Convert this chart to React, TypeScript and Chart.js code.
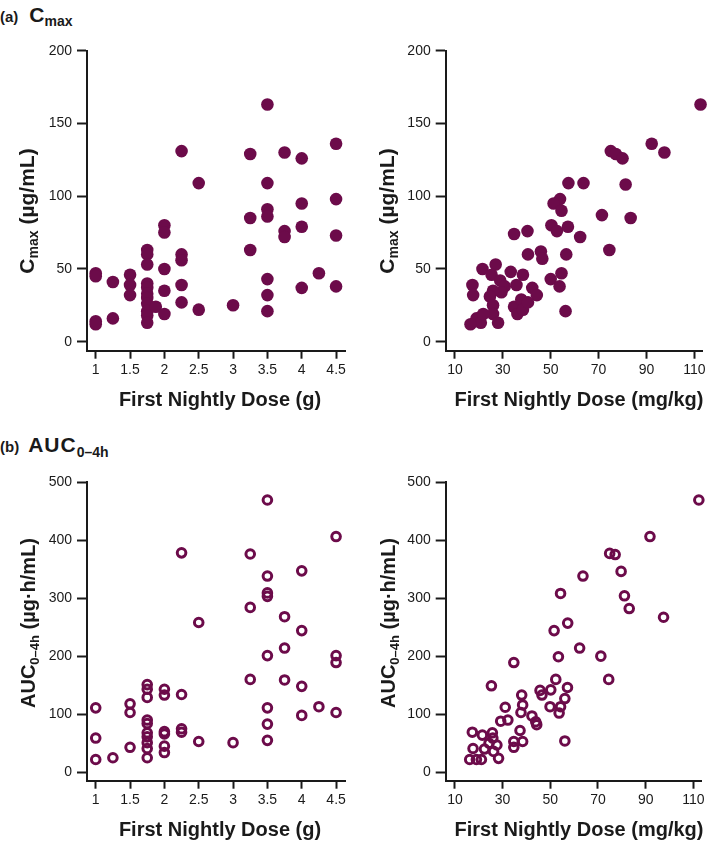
import React, { useEffect, useRef } from 'react';
import { Chart, registerables } from 'chart.js';

Chart.register(...registerables);

const COLOR = '#6C0B4A';
const AXIS_COLOR = '#1a1a1a';
const FONT = "'Liberation Sans', Arial, Helvetica, sans-serif";

// ---------- Tick labels ----------
const doseGTicks = [1, 1.5, 2, 2.5, 3, 3.5, 4, 4.5];
const doseMgKgTicks = [10, 30, 50, 70, 90, 110];
const cmaxTicks = [0, 50, 100, 150, 200];
const aucTicks = [0, 100, 200, 300, 400, 500];

// ---------- (a) Cmax vs dose (g) ----------
const cmaxDoseG = [
  1, 1, 1, 1, 1.25, 1.25, 1.5, 1.5, 1.5,
  1.75, 1.75, 1.75, 1.75, 1.75, 1.75, 1.75, 1.75, 1.75, 1.75, 1.75, 1.875,
  2, 2, 2, 2, 2, 2.25, 2.25, 2.25, 2.25, 2.25, 2.5, 2.5, 3,
  3.25, 3.25, 3.25, 3.5, 3.5, 3.5, 3.5, 3.5, 3.5, 3.5,
  3.75, 3.75, 3.75, 4, 4, 4, 4, 4.25, 4.5, 4.5, 4.5, 4.5,
];
const cmaxValuesG = [
  47, 45, 14, 12, 41, 16, 46, 39, 32,
  63, 60, 53, 40, 37, 33, 30, 26, 21, 18, 13, 24,
  80, 75, 50, 35, 19, 131, 60, 56, 39, 27, 109, 22, 25,
  129, 85, 63, 163, 109, 91, 86, 43, 32, 21,
  130, 76, 72, 126, 95, 79, 37, 47, 136, 98, 73, 38,
];

// ---------- (a) Cmax vs dose (mg/kg) ----------
const cmaxDoseMgKg = [
  112.6, 92.2, 97.5, 75.1, 77.2, 80.0, 81.3, 83.4, 71.4, 74.5,
  57.4, 63.7, 53.9, 51.2, 54.5, 50.3, 52.6, 57.2, 62.3, 56.5,
  45.9, 46.5, 40.5, 40.3, 34.7, 50.0, 54.5, 53.7, 56.2, 42.3,
  44.2, 38.4, 33.3, 35.7, 34.7, 36.1, 37.7, 38.4, 40.5, 27.0,
  21.5, 25.3, 28.9, 30.8, 29.4, 25.9, 24.6, 25.9, 25.9, 17.3,
  17.6, 19.0, 20.8, 21.8, 16.5, 28.0,
];
const cmaxValuesMgKg = [
  163, 136, 130, 131, 129, 126, 108, 85, 87, 63,
  109, 109, 98, 95, 90, 80, 76, 79, 72, 60,
  62, 57, 60, 76, 74, 43, 47, 38, 21, 37,
  32, 46, 48, 39, 24, 19, 29, 22, 27, 53,
  50, 46, 42, 38, 34, 35, 31, 25, 19, 39,
  32, 16, 13, 19, 12, 13,
];

// ---------- (b) AUC0-4h vs dose (g) ----------
const aucDoseG = [
  1, 1, 1, 1.25, 1.5, 1.5, 1.5,
  1.75, 1.75, 1.75, 1.75, 1.75, 1.75, 1.75, 1.75, 1.75, 1.75,
  2, 2, 2, 2, 2, 2, 2.25, 2.25, 2.25, 2.25, 2.5, 2.5, 3,
  3.25, 3.25, 3.25, 3.5, 3.5, 3.5, 3.5, 3.5, 3.5, 3.5, 3.5,
  3.75, 3.75, 3.75, 4, 4, 4, 4, 4.25, 4.5, 4.5, 4.5, 4.5,
];
const aucValuesG = [
  111, 59, 22, 25, 118, 103, 43,
  151, 143, 129, 90, 84, 68, 61, 51, 41, 25,
  143, 133, 70, 66, 45, 34, 378, 134, 75, 69, 258, 53, 51,
  376, 284, 160, 469, 338, 309, 303, 201, 111, 83, 55,
  268, 214, 159, 347, 244, 148, 98, 113, 406, 201, 189, 103,
];

// ---------- (b) AUC0-4h vs dose (mg/kg) ----------
const aucDoseMgKg = [
  112.3, 91.8, 97.5, 74.9, 77.2, 79.7, 81.1, 83.1, 71.2, 74.5,
  63.7, 54.3, 57.3, 51.6, 62.3, 53.4, 52.3, 50.2, 57.2, 56.1,
  54.3, 53.7, 49.9, 56.1, 45.7, 46.5, 34.7, 38.0, 38.4, 37.7,
  42.3, 43.9, 44.3, 31.1, 32.2, 29.2, 37.3, 38.4, 34.7, 34.7,
  25.3, 25.7, 21.5, 17.3, 25.9, 27.6, 26.2, 24.3, 22.4, 17.6,
  28.3, 16.2, 19.0, 21.1,
];
const aucValuesMgKg = [
  469, 406, 267, 377, 375, 346, 304, 282, 200, 160,
  338, 308, 257, 244, 214, 199, 160, 142, 146, 127,
  113, 102, 113, 54, 141, 133, 189, 133, 116, 103,
  97, 87, 82, 112, 90, 88, 72, 53, 53, 43,
  149, 68, 64, 69, 59, 47, 36, 50, 40, 41,
  24, 22, 22, 22,
];

type PanelSpec = {
  left: number; top: number; w: number; h: number;
  xs: number[]; ys: number[];
  xMin: number; xMax: number; yMin: number; yMax: number;
  xTicks: number[]; yTicks: number[];
  padTop: number; padRight: number; yAxisW: number; xAxisH: number;
  filled: boolean;
  xText: string; xCenter: number; xBaseline: number;
  yMain: string; ySub: string; yRest: string; yBaseline: number; yCenter: number;
  yMainSize: number; ySubSize: number;
};

const axisTitlePlugin = {
  id: 'axisTitles',
  afterDraw(chart: any, _args: any, opts: any) {
    const ctx = chart.ctx as CanvasRenderingContext2D;
    ctx.save();
    ctx.fillStyle = AXIS_COLOR;
    ctx.textBaseline = 'alphabetic';
    ctx.font = `bold 20px ${FONT}`;
    ctx.textAlign = 'center';
    ctx.fillText(opts.xText, opts.xCenter, opts.xBaseline);

    ctx.translate(opts.yBaseline, opts.yCenter);
    ctx.rotate(-Math.PI / 2);
    ctx.textAlign = 'left';
    const mainFont = `bold ${opts.yMainSize}px ${FONT}`;
    const subFont = `bold ${opts.ySubSize}px ${FONT}`;
    ctx.font = mainFont;
    const w1 = ctx.measureText(opts.yMain).width;
    ctx.font = subFont;
    const w2 = ctx.measureText(opts.ySub).width;
    ctx.font = mainFont;
    const rest = ' ' + opts.yRest;
    const w3 = ctx.measureText(rest).width;
    const x0 = -(w1 + w2 + w3) / 2;
    ctx.font = mainFont;
    ctx.fillText(opts.yMain, x0, 0);
    ctx.font = subFont;
    ctx.fillText(opts.ySub, x0 + w1, 4);
    ctx.font = mainFont;
    ctx.fillText(rest, x0 + w1 + w2, 0);
    ctx.restore();
  },
};

function buildConfig(p: PanelSpec): any {
  const tickFont = { family: FONT, size: 14 };
  const pointStyle = p.filled
    ? { pointRadius: 6.3, pointBackgroundColor: COLOR, pointBorderWidth: 0, pointBorderColor: COLOR }
    : { pointRadius: 4.3, pointBackgroundColor: 'rgba(0,0,0,0)', pointBorderWidth: 3, pointBorderColor: COLOR };
  return {
    type: 'scatter',
    data: {
      datasets: [
        {
          data: p.xs.map((x, i) => ({ x, y: p.ys[i] })),
          ...pointStyle,
          pointHoverRadius: pointStyle.pointRadius,
          clip: false,
        },
      ],
    },
    options: {
      animation: false,
      responsive: false,
      maintainAspectRatio: false,
      events: [],
      layout: { padding: { left: 0, top: p.padTop, right: p.padRight, bottom: 0 } },
      plugins: {
        legend: { display: false },
        tooltip: { enabled: false },
        axisTitles: {
          xText: p.xText, xCenter: p.xCenter, xBaseline: p.xBaseline,
          yMain: p.yMain, ySub: p.ySub, yRest: p.yRest, yBaseline: p.yBaseline, yCenter: p.yCenter,
          yMainSize: p.yMainSize, ySubSize: p.ySubSize,
        },
      },
      scales: {
        x: {
          type: 'linear',
          min: p.xMin,
          max: p.xMax,
          afterBuildTicks: (s: any) => { s.ticks = p.xTicks.map((v) => ({ value: v })); },
          afterFit: (s: any) => { s.height = p.xAxisH; s.paddingLeft = 0; s.paddingRight = 0; },
          grid: { drawOnChartArea: false, drawTicks: true, tickLength: 8, tickWidth: 2, tickColor: AXIS_COLOR },
          border: { display: true, width: 2, color: AXIS_COLOR },
          ticks: { font: tickFont, color: AXIS_COLOR, padding: 3, maxRotation: 0, autoSkip: false, callback: (v: any) => String(v) },
        },
        y: {
          type: 'linear',
          min: p.yMin,
          max: p.yMax,
          afterBuildTicks: (s: any) => { s.ticks = p.yTicks.map((v) => ({ value: v })); },
          afterFit: (s: any) => { s.width = p.yAxisW; s.paddingTop = 0; s.paddingBottom = 0; },
          grid: { drawOnChartArea: false, drawTicks: true, tickLength: 10, tickWidth: 2, tickColor: AXIS_COLOR },
          border: { display: true, width: 2, color: AXIS_COLOR },
          ticks: { font: tickFont, color: AXIS_COLOR, padding: 5, autoSkip: false, callback: (v: any) => String(v) },
        },
      },
    },
    plugins: [axisTitlePlugin],
  };
}

const panels: PanelSpec[] = [
  {
    left: 0, top: 40, w: 360, h: 380,
    xs: cmaxDoseG, ys: cmaxValuesG,
    xMin: 0.873, xMax: 4.63, yMin: -6.2, yMax: 200,
    xTicks: doseGTicks, yTicks: cmaxTicks,
    padTop: 10.7, padRight: 15, yAxisW: 87, xAxisH: 69.3, filled: true,
    xText: 'First Nightly Dose (g)', xCenter: 220, xBaseline: 366,
    yMain: 'C', ySub: 'max', yRest: '(µg/mL)', yBaseline: 34, yCenter: 171,
    yMainSize: 21, ySubSize: 14,
  },
  {
    left: 360, top: 40, w: 349, h: 380,
    xs: cmaxDoseMgKg, ys: cmaxValuesMgKg,
    xMin: 6.13, xMax: 113.5, yMin: -6.2, yMax: 200,
    xTicks: doseMgKgTicks, yTicks: cmaxTicks,
    padTop: 10.7, padRight: 5, yAxisW: 85.7, xAxisH: 69.3, filled: true,
    xText: 'First Nightly Dose (mg/kg)', xCenter: 219, xBaseline: 366,
    yMain: 'C', ySub: 'max', yRest: '(µg/mL)', yBaseline: 34, yCenter: 171,
    yMainSize: 21, ySubSize: 14,
  },
  {
    left: 0, top: 460, w: 360, h: 384,
    xs: aucDoseG, ys: aucValuesG,
    xMin: 0.873, xMax: 4.63, yMin: -14.5, yMax: 500,
    xTicks: doseGTicks, yTicks: aucTicks,
    padTop: 22, padRight: 15, yAxisW: 87, xAxisH: 63.3, filled: false,
    xText: 'First Nightly Dose (g)', xCenter: 220, xBaseline: 375.7,
    yMain: 'AUC', ySub: '0–4h', yRest: '(µg·h/mL)', yBaseline: 35, yCenter: 163,
    yMainSize: 20, ySubSize: 13,
  },
  {
    left: 360, top: 460, w: 349, h: 384,
    xs: aucDoseMgKg, ys: aucValuesMgKg,
    xMin: 6.13, xMax: 113.5, yMin: -14.5, yMax: 500,
    xTicks: doseMgKgTicks, yTicks: aucTicks,
    padTop: 22, padRight: 5, yAxisW: 85.7, xAxisH: 63.3, filled: false,
    xText: 'First Nightly Dose (mg/kg)', xCenter: 219, xBaseline: 375.7,
    yMain: 'AUC', ySub: '0–4h', yRest: '(µg·h/mL)', yBaseline: 35, yCenter: 163,
    yMainSize: 20, ySubSize: 13,
  },
];

function Panel({ spec }: { spec: PanelSpec }) {
  const ref = useRef<HTMLCanvasElement | null>(null);
  useEffect(() => {
    if (!ref.current) return;
    const chart = new Chart(ref.current, buildConfig(spec));
    return () => chart.destroy();
  }, [spec]);
  return (
    <canvas
      ref={ref}
      width={spec.w}
      height={spec.h}
      style={{ position: 'absolute', left: spec.left, top: spec.top, width: spec.w, height: spec.h }}
    />
  );
}

export default function App() {
  return (
    <div style={{ position: 'absolute', left: 0, top: 0, width: 709, height: 844, background: '#fff', fontFamily: FONT, color: AXIS_COLOR }}>
      <div style={{ position: 'absolute', left: 0, top: 4, fontWeight: 'bold', fontSize: 21, lineHeight: '21px', whiteSpace: 'nowrap' }}>
        <span style={{ fontSize: 15 }}>(a)</span>
        <span style={{ marginLeft: 11 }}>C</span>
        <span style={{ fontSize: 14, position: 'relative', top: 4 }}>max</span>
      </div>
      <div style={{ position: 'absolute', left: 0, top: 434, fontWeight: 'bold', fontSize: 21, lineHeight: '21px', whiteSpace: 'nowrap' }}>
        <span style={{ fontSize: 15 }}>(b)</span>
        <span style={{ marginLeft: 9, letterSpacing: 1 }}>AUC</span>
        <span style={{ fontSize: 14, position: 'relative', top: 5 }}>0–4h</span>
      </div>
      {panels.map((p, i) => (
        <Panel key={i} spec={p} />
      ))}
    </div>
  );
}
